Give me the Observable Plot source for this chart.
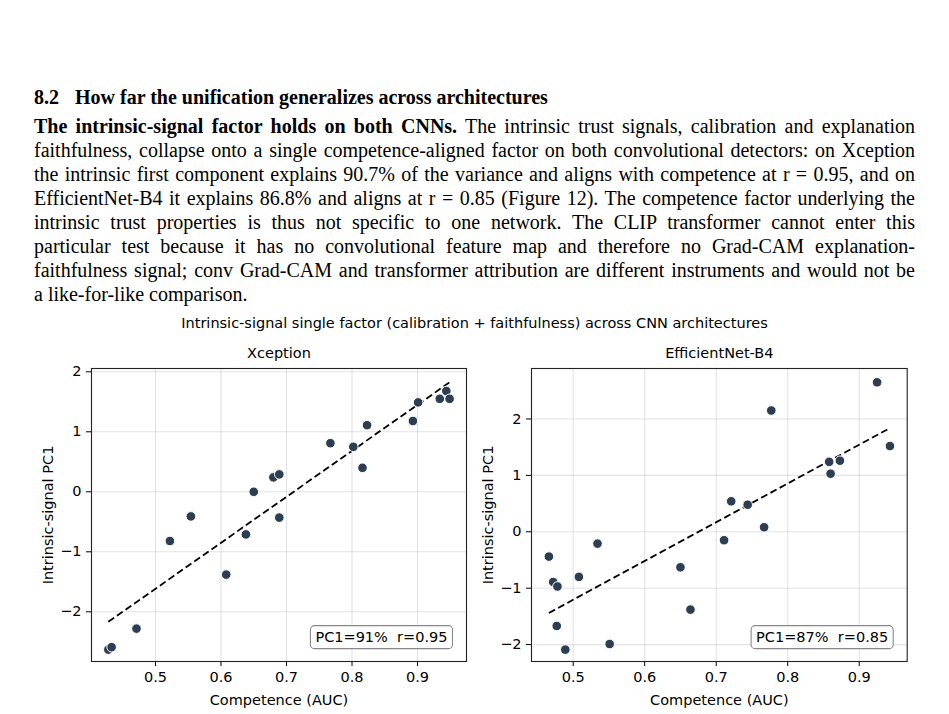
<!DOCTYPE html>
<html>
<head>
<meta charset="utf-8">
<script src="https://cdn.jsdelivr.net/npm/d3@7"></script>
<script src="https://cdn.jsdelivr.net/npm/@observablehq/plot@0.6"></script>
<style>
  html, body { margin: 0; padding: 0; background: #fff; }
  body { width: 949px; height: 714px; position: relative; overflow: hidden; }
  .doc { position: absolute; left: 34px; width: 881px; font-family: "Liberation Serif", "Times New Roman", serif; color: #000; }
  .heading { top: 85px; font-size: 20px; line-height: 24px; font-weight: bold; }
  .heading .num { margin-right: 16px; }
  .para { top: 114px; font-size: 20px; line-height: 24px; }
  .para div { text-align: justify; text-align-last: justify; }
  .para div.last { text-align-last: left; }
  .suptitle { position: absolute; left: 0; width: 949px; top: 313px; line-height: 20px; text-align: center;
              font-family: "DejaVu Sans", sans-serif; font-size: 14.5px; color: #000; }
  .panel { position: absolute; top: 330px; }
</style>
</head>
<body>
<div class="doc heading"><span class="num">8.2</span>How far the unification generalizes across architectures</div>
<div class="doc para">
  <div><b>The intrinsic-signal factor holds on both CNNs.</b> The intrinsic trust signals, calibration and explanation</div>
  <div>faithfulness, collapse onto a single competence-aligned factor on both convolutional detectors: on Xception</div>
  <div>the intrinsic first component explains 90.7% of the variance and aligns with competence at r = 0.95, and on</div>
  <div>EfficientNet-B4 it explains 86.8% and aligns at r = 0.85 (Figure 12). The competence factor underlying the</div>
  <div>intrinsic trust properties is thus not specific to one network. The CLIP transformer cannot enter this</div>
  <div>particular test because it has no convolutional feature map and therefore no Grad-CAM explanation-</div>
  <div>faithfulness signal; conv Grad-CAM and transformer attribution are different instruments and would not be</div>
  <div class="last">a like-for-like comparison.</div>
</div>
<div class="suptitle">Intrinsic-signal single factor (calibration + faithfulness) across CNN architectures</div>
<div id="left" class="panel" style="left:20px"></div>
<div id="right" class="panel" style="left:470px"></div>
<script>
// Per-detector competence (AUC) and intrinsic-signal PC1 scores
const competenceXception = [0.428, 0.433, 0.471, 0.522, 0.554, 0.608, 0.638, 0.650, 0.680, 0.689,
                            0.689, 0.767, 0.802, 0.816, 0.823, 0.893, 0.901, 0.934, 0.944, 0.949];
const pc1Xception = [-2.63, -2.59, -2.28, -0.82, -0.41, -1.38, -0.71, 0.00, 0.24, 0.29,
                     -0.43, 0.81, 0.75, 0.40, 1.11, 1.18, 1.49, 1.55, 1.68, 1.55];
const competenceEffNet = [0.466, 0.472, 0.478, 0.477, 0.489, 0.508, 0.534, 0.551, 0.650, 0.664,
                          0.711, 0.721, 0.744, 0.767, 0.777, 0.858, 0.860, 0.873, 0.925, 0.943];
const pc1EffNet = [-0.44, -0.89, -0.97, -1.67, -2.09, -0.80, -0.21, -1.99, -0.63, -1.38,
                   -0.15, 0.54, 0.48, 0.08, 2.15, 1.24, 1.03, 1.26, 2.65, 1.52];

const panelTitles = ["Xception", "EfficientNet-B4"];
const statLabels = ["PC1=91%  r=0.95", "PC1=87%  r=0.85"];
const xTicks = [0.5, 0.6, 0.7, 0.8, 0.9];
const yTicks = [-2, -1, 0, 1, 2];
const xLabel = "Competence (AUC)";
const yLabel = "Intrinsic-signal PC1";

const minusFormat = d => (d < 0 ? "\u2212" : "") + Math.abs(d);

function panel({title, xs, ys, stat, xDomain, yDomain, width, marginLeft, marginRight}) {
  const data = xs.map((x, i) => ({x, y: ys[i]}));
  const grid = {stroke: "#b0b0b0", strokeOpacity: 0.35, strokeWidth: 1.1};
  return Plot.plot({
    width, height: 384,
    marginLeft, marginRight, marginTop: 38, marginBottom: 53,
    style: {fontFamily: "'DejaVu Sans', sans-serif", fontSize: "14.5px", color: "#000", background: "transparent", overflow: "visible"},
    x: {domain: xDomain},
    y: {domain: yDomain},
    marks: [
      Plot.gridX(xTicks, grid),
      Plot.gridY(yTicks, grid),
      Plot.axisX(xTicks, {tickSize: 5, tickPadding: 5, tickFormat: d3.format(".1f"),
        label: xLabel, labelAnchor: "center", labelArrow: "none", labelOffset: 43}),
      Plot.axisY(yTicks, {tickSize: 5, tickPadding: 5, tickFormat: minusFormat,
        label: yLabel, labelAnchor: "center", labelArrow: "none", labelOffset: 49}),
      Plot.frame({stroke: "#222", strokeWidth: 1.1}),
      Plot.linearRegressionY(data, {x: "x", y: "y", ci: 0, stroke: "#000", strokeWidth: 1.8,
        strokeDasharray: "7,3.5", strokeLinecap: "butt"}),
      Plot.dot(data, {x: "x", y: "y", r: 4.8, fill: "#2c3e50", stroke: "#fff", strokeWidth: 1}),
      Plot.text([title], {frameAnchor: "top", dy: -15, lineAnchor: "middle"}),
      Plot.text([stat.replace(/  /g, "\u00a0 ")], {frameAnchor: "bottom-right", textAnchor: "end",
        dx: -19, dy: -24, lineAnchor: "middle"})
    ]
  });
}

// Rounded, outlined box behind the stat annotation
function boxStat(svg) {
  const t = [...svg.querySelectorAll("text")].find(n => n.textContent.startsWith("PC1="));
  if (!t) return;
  const b = t.getBBox();
  const ns = "http://www.w3.org/2000/svg";
  const rect = document.createElementNS(ns, "rect");
  rect.setAttribute("x", b.x - 5);
  rect.setAttribute("y", b.y - 3.5);
  rect.setAttribute("width", b.width + 10);
  rect.setAttribute("height", b.height + 7);
  rect.setAttribute("rx", 4);
  rect.setAttribute("fill", "#fff");
  rect.setAttribute("stroke", "#888");
  rect.setAttribute("stroke-width", 1.1);
  const m = t.getAttribute("transform");
  if (m) rect.setAttribute("transform", m);
  t.parentNode.insertBefore(rect, t);
}

const left = panel({title: panelTitles[0], xs: competenceXception, ys: pc1Xception, stat: statLabels[0],
  xDomain: [0.4023, 0.9748], yDomain: [-2.828, 2.055], width: 460, marginLeft: 71, marginRight: 14});
const right = panel({title: panelTitles[1], xs: competenceEffNet, ys: pc1EffNet, stat: statLabels[1],
  xDomain: [0.4417, 0.9671], yDomain: [-2.30, 2.895], width: 450, marginLeft: 61, marginRight: 13.3});

document.getElementById("left").appendChild(left);
document.getElementById("right").appendChild(right);
boxStat(left);
boxStat(right);
</script>
</body>
</html>
